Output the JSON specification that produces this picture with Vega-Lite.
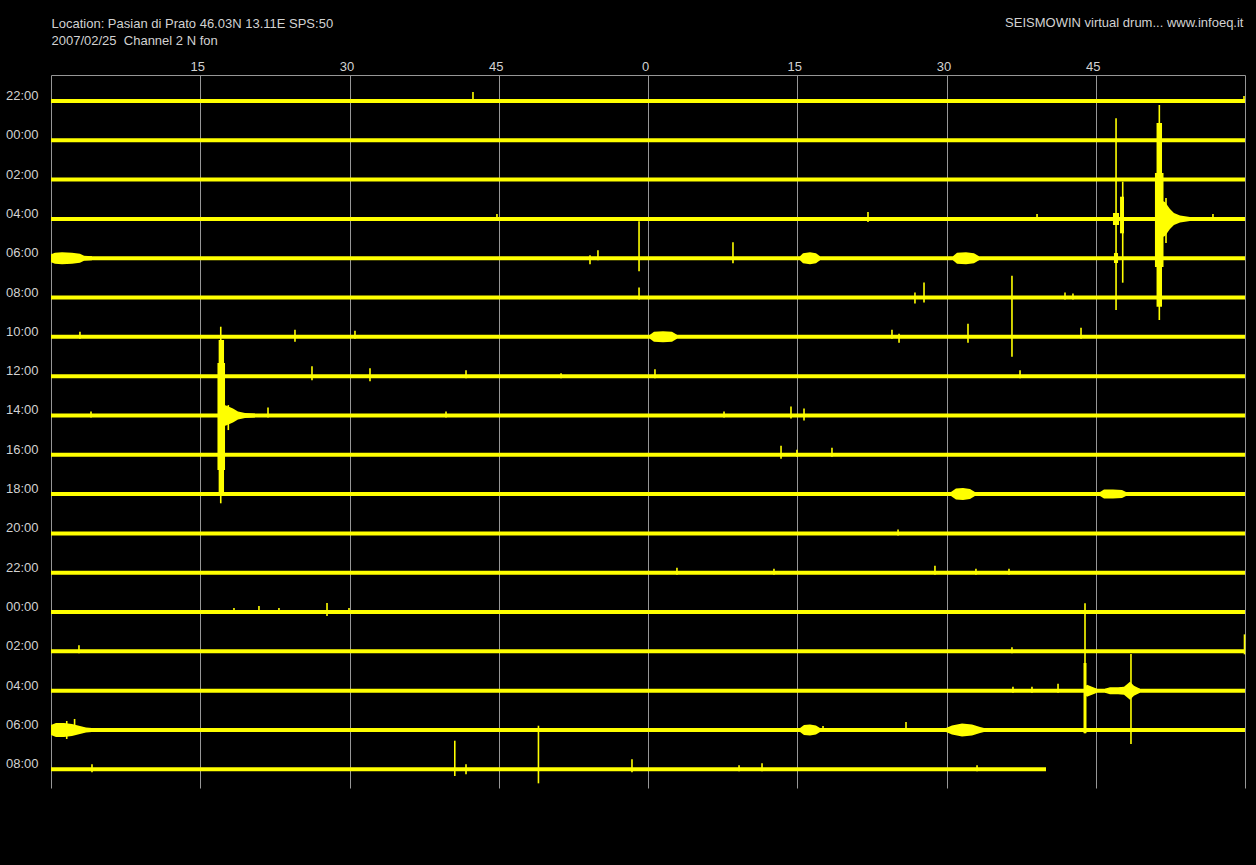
{
  "$schema": "https://vega.github.io/schema/vega-lite/v6.json",
  "autosize": {"type": "none"},
  "padding": {"left": 51, "top": 75, "right": 11, "bottom": 77},
  "width": 1194,
  "height": 713,
  "background": "#000000",
  "config": {"view": {"stroke": null}},
  "datasets": {
    "rows": [
      {"row": 0, "level": 0, "start": 0, "end": 120},
      {"row": 1, "level": -1, "start": 0, "end": 120},
      {"row": 2, "level": -2, "start": 0, "end": 120},
      {"row": 3, "level": -3, "start": 0, "end": 120},
      {"row": 4, "level": -4, "start": 0, "end": 120},
      {"row": 5, "level": -5, "start": 0, "end": 120},
      {"row": 6, "level": -6, "start": 0, "end": 120},
      {"row": 7, "level": -7, "start": 0, "end": 120},
      {"row": 8, "level": -8, "start": 0, "end": 120},
      {"row": 9, "level": -9, "start": 0, "end": 120},
      {"row": 10, "level": -10, "start": 0, "end": 120},
      {"row": 11, "level": -11, "start": 0, "end": 120},
      {"row": 12, "level": -12, "start": 0, "end": 120},
      {"row": 13, "level": -13, "start": 0, "end": 120},
      {"row": 14, "level": -14, "start": 0, "end": 120},
      {"row": 15, "level": -15, "start": 0, "end": 120},
      {"row": 16, "level": -16, "start": 0, "end": 120},
      {"row": 17, "level": -17, "start": 0, "end": 100.0}
    ],
    "spikes": [
      {"min": 42.41, "hi": 0.229, "lo": -0.05},
      {"min": 119.9, "hi": 0.127, "lo": -0.05},
      {"min": 44.82, "hi": -2.873, "lo": -3.05},
      {"min": 82.11, "hi": -2.822, "lo": -3.076},
      {"min": 99.10, "hi": -2.873, "lo": -3.05},
      {"min": 116.78, "hi": -2.873, "lo": -3.05},
      {"min": 54.17, "hi": -3.924, "lo": -4.153},
      {"min": 54.97, "hi": -3.796, "lo": -4.05},
      {"min": 59.10, "hi": -3.059, "lo": -4.331},
      {"min": 68.54, "hi": -3.593, "lo": -4.127},
      {"min": 59.10, "hi": -4.746, "lo": -5.05},
      {"min": 86.83, "hi": -4.873, "lo": -5.153},
      {"min": 87.74, "hi": -4.618, "lo": -5.127},
      {"min": 101.91, "hi": -4.873, "lo": -5.05},
      {"min": 102.71, "hi": -4.898, "lo": -5.05},
      {"min": 2.91, "hi": -5.873, "lo": -6.05},
      {"min": 24.52, "hi": -5.822, "lo": -6.127},
      {"min": 30.55, "hi": -5.847, "lo": -6.05},
      {"min": 84.52, "hi": -5.822, "lo": -6.05},
      {"min": 85.23, "hi": -5.924, "lo": -6.153},
      {"min": 92.16, "hi": -5.669, "lo": -6.153},
      {"min": 96.58, "hi": -4.444, "lo": -6.505},
      {"min": 103.52, "hi": -5.771, "lo": -6.05},
      {"min": 17.06, "hi": -5.742, "lo": -10.234},
      {"min": 26.23, "hi": -6.746, "lo": -7.102},
      {"min": 32.06, "hi": -6.796, "lo": -7.127},
      {"min": 41.71, "hi": -6.847, "lo": -7.05},
      {"min": 51.26, "hi": -6.924, "lo": -7.05},
      {"min": 60.70, "hi": -6.822, "lo": -7.05},
      {"min": 97.39, "hi": -6.847, "lo": -7.05},
      {"min": 4.02, "hi": -7.898, "lo": -8.05},
      {"min": 21.81, "hi": -7.796, "lo": -8.05},
      {"min": 39.70, "hi": -7.898, "lo": -8.05},
      {"min": 67.64, "hi": -7.898, "lo": -8.05},
      {"min": 74.37, "hi": -7.771, "lo": -8.076},
      {"min": 75.68, "hi": -7.822, "lo": -8.127},
      {"min": 17.82, "hi": -7.735, "lo": -8.371},
      {"min": 73.37, "hi": -8.771, "lo": -9.102},
      {"min": 74.97, "hi": -8.873, "lo": -9.05},
      {"min": 78.49, "hi": -8.822, "lo": -9.05},
      {"min": 85.13, "hi": -10.898, "lo": -11.05},
      {"min": 62.91, "hi": -11.873, "lo": -12.05},
      {"min": 72.66, "hi": -11.898, "lo": -12.05},
      {"min": 88.84, "hi": -11.822, "lo": -12.05},
      {"min": 92.96, "hi": -11.898, "lo": -12.05},
      {"min": 96.28, "hi": -11.898, "lo": -12.05},
      {"min": 18.39, "hi": -12.898, "lo": -13.05},
      {"min": 20.90, "hi": -12.847, "lo": -13.05},
      {"min": 22.91, "hi": -12.898, "lo": -13.05},
      {"min": 27.74, "hi": -12.771, "lo": -13.102},
      {"min": 29.95, "hi": -12.898, "lo": -13.05},
      {"min": 103.92, "hi": -12.778, "lo": -16.085},
      {"min": 2.81, "hi": -13.847, "lo": -14.05},
      {"min": 96.58, "hi": -13.898, "lo": -14.05},
      {"min": 119.95, "hi": -13.568, "lo": -14.076},
      {"min": 96.68, "hi": -14.898, "lo": -15.05},
      {"min": 98.59, "hi": -14.898, "lo": -15.05},
      {"min": 101.21, "hi": -14.822, "lo": -15.05},
      {"min": 108.54, "hi": -14.068, "lo": -16.357},
      {"min": 1.58, "hi": -15.771, "lo": -16.229},
      {"min": 2.37, "hi": -15.72, "lo": -16.05},
      {"min": 77.59, "hi": -15.898, "lo": -16.05},
      {"min": 85.93, "hi": -15.796, "lo": -16.05},
      {"min": 4.12, "hi": -16.873, "lo": -17.076},
      {"min": 40.58, "hi": -16.273, "lo": -17.171},
      {"min": 41.71, "hi": -16.873, "lo": -17.127},
      {"min": 48.99, "hi": -15.892, "lo": -17.357},
      {"min": 58.39, "hi": -16.746, "lo": -17.076},
      {"min": 69.15, "hi": -16.898, "lo": -17.05},
      {"min": 71.46, "hi": -16.847, "lo": -17.05},
      {"min": 93.07, "hi": -16.898, "lo": -17.05},
      {"min": 107.04, "hi": -0.44, "lo": -5.317},
      {"min": 107.71, "hi": -2.053, "lo": -4.622},
      {"min": 111.39, "hi": -0.102, "lo": -5.571},
      {"min": 112.06, "hi": -2.468, "lo": -3.612}
    ],
    "blocks": [
      {"from": 111.11, "to": 111.66, "hi": -0.56, "lo": -5.233},
      {"from": 110.95, "to": 111.81, "hi": -1.832, "lo": -4.223},
      {"from": 16.85, "to": 17.39, "hi": -6.08, "lo": -9.98},
      {"from": 16.73, "to": 17.49, "hi": -6.665, "lo": -9.387},
      {"from": 106.73, "to": 107.34, "hi": -2.85, "lo": -3.155},
      {"from": 106.83, "to": 107.24, "hi": -3.868, "lo": -4.122},
      {"from": 107.44, "to": 107.84, "hi": -2.435, "lo": -3.366},
      {"from": 103.77, "to": 104.07, "hi": -14.297, "lo": -16.081}
    ],
    "env": [
      {"id": "c3", "min": 111.26, "hi": -2.491, "lo": -3.509},
      {"id": "c3", "min": 111.96, "hi": -2.568, "lo": -3.432},
      {"id": "c3", "min": 112.46, "hi": -2.746, "lo": -3.254},
      {"id": "c3", "min": 112.86, "hi": -2.847, "lo": -3.153},
      {"id": "c3", "min": 113.47, "hi": -2.911, "lo": -3.089},
      {"id": "c3", "min": 114.47, "hi": -2.949, "lo": -3.051},
      {"id": "c8", "min": 16.88, "hi": -7.695, "lo": -8.305},
      {"id": "c8", "min": 17.59, "hi": -7.746, "lo": -8.254},
      {"id": "c8", "min": 18.29, "hi": -7.822, "lo": -8.178},
      {"id": "c8", "min": 18.79, "hi": -7.898, "lo": -8.102},
      {"id": "c8", "min": 19.50, "hi": -7.936, "lo": -8.064},
      {"id": "c8", "min": 20.50, "hi": -7.949, "lo": -8.051},
      {"id": "b4a", "min": 0, "hi": -3.898, "lo": -4.102},
      {"id": "b4a", "min": 0.40, "hi": -3.86, "lo": -4.14},
      {"id": "b4a", "min": 1.11, "hi": -3.847, "lo": -4.153},
      {"id": "b4a", "min": 2.11, "hi": -3.86, "lo": -4.14},
      {"id": "b4a", "min": 2.91, "hi": -3.886, "lo": -4.114},
      {"id": "b4a", "min": 3.32, "hi": -3.936, "lo": -4.064},
      {"id": "b4a", "min": 4.12, "hi": -3.949, "lo": -4.051},
      {"id": "b4b", "min": 75.28, "hi": -3.949, "lo": -4.051},
      {"id": "b4b", "min": 75.58, "hi": -3.873, "lo": -4.127},
      {"id": "b4b", "min": 76.28, "hi": -3.847, "lo": -4.153},
      {"id": "b4b", "min": 76.88, "hi": -3.873, "lo": -4.127},
      {"id": "b4b", "min": 77.29, "hi": -3.949, "lo": -4.051},
      {"id": "b4c", "min": 90.65, "hi": -3.949, "lo": -4.051},
      {"id": "b4c", "min": 91.06, "hi": -3.86, "lo": -4.14},
      {"id": "b4c", "min": 91.96, "hi": -3.847, "lo": -4.153},
      {"id": "b4c", "min": 92.76, "hi": -3.873, "lo": -4.127},
      {"id": "b4c", "min": 93.27, "hi": -3.949, "lo": -4.051},
      {"id": "b6", "min": 60.20, "hi": -5.949, "lo": -6.051},
      {"id": "b6", "min": 60.60, "hi": -5.873, "lo": -6.127},
      {"id": "b6", "min": 61.51, "hi": -5.86, "lo": -6.14},
      {"id": "b6", "min": 62.41, "hi": -5.873, "lo": -6.127},
      {"id": "b6", "min": 62.91, "hi": -5.949, "lo": -6.051},
      {"id": "b10a", "min": 90.45, "hi": -9.949, "lo": -10.051},
      {"id": "b10a", "min": 90.95, "hi": -9.86, "lo": -10.14},
      {"id": "b10a", "min": 91.66, "hi": -9.847, "lo": -10.153},
      {"id": "b10a", "min": 92.36, "hi": -9.873, "lo": -10.127},
      {"id": "b10a", "min": 92.86, "hi": -9.949, "lo": -10.051},
      {"id": "b10b", "min": 105.43, "hi": -9.949, "lo": -10.051},
      {"id": "b10b", "min": 105.83, "hi": -9.886, "lo": -10.114},
      {"id": "b10b", "min": 106.73, "hi": -9.886, "lo": -10.114},
      {"id": "b10b", "min": 107.64, "hi": -9.898, "lo": -10.102},
      {"id": "b10b", "min": 108.04, "hi": -9.949, "lo": -10.051},
      {"id": "b16a", "min": 0, "hi": -15.873, "lo": -16.127},
      {"id": "b16a", "min": 0.50, "hi": -15.822, "lo": -16.178},
      {"id": "b16a", "min": 1.31, "hi": -15.822, "lo": -16.178},
      {"id": "b16a", "min": 2.11, "hi": -15.847, "lo": -16.153},
      {"id": "b16a", "min": 2.91, "hi": -15.898, "lo": -16.102},
      {"id": "b16a", "min": 3.52, "hi": -15.936, "lo": -16.064},
      {"id": "b16a", "min": 4.12, "hi": -15.949, "lo": -16.051},
      {"id": "b16b", "min": 75.28, "hi": -15.949, "lo": -16.051},
      {"id": "b16b", "min": 75.68, "hi": -15.873, "lo": -16.127},
      {"id": "b16b", "min": 76.28, "hi": -15.86, "lo": -16.14},
      {"id": "b16b", "min": 76.88, "hi": -15.886, "lo": -16.114},
      {"id": "b16b", "min": 77.29, "hi": -15.949, "lo": -16.051},
      {"id": "b16c", "min": 89.95, "hi": -15.949, "lo": -16.051},
      {"id": "b16c", "min": 90.55, "hi": -15.886, "lo": -16.114},
      {"id": "b16c", "min": 91.56, "hi": -15.835, "lo": -16.165},
      {"id": "b16c", "min": 92.56, "hi": -15.86, "lo": -16.14},
      {"id": "b16c", "min": 93.37, "hi": -15.924, "lo": -16.076},
      {"id": "b16c", "min": 93.77, "hi": -15.949, "lo": -16.051},
      {"id": "b15a", "min": 103.82, "hi": -14.924, "lo": -15.076},
      {"id": "b15a", "min": 104.12, "hi": -14.847, "lo": -15.153},
      {"id": "b15a", "min": 104.62, "hi": -14.898, "lo": -15.102},
      {"id": "b15a", "min": 105.13, "hi": -14.949, "lo": -15.051},
      {"id": "b15b", "min": 105.93, "hi": -14.949, "lo": -15.051},
      {"id": "b15b", "min": 106.43, "hi": -14.911, "lo": -15.089},
      {"id": "b15b", "min": 107.24, "hi": -14.911, "lo": -15.089},
      {"id": "b15b", "min": 107.84, "hi": -14.898, "lo": -15.102},
      {"id": "b15b", "min": 108.44, "hi": -14.771, "lo": -15.229},
      {"id": "b15b", "min": 108.84, "hi": -14.873, "lo": -15.127},
      {"id": "b15b", "min": 109.45, "hi": -14.949, "lo": -15.051}
    ]
  },
  "encoding": {
    "x": {
      "type": "quantitative",
      "scale": {"domain": [0, 120], "nice": false, "zero": false},
      "axis": {
        "orient": "top",
        "values": [0, 15, 30, 45, 60, 75, 90, 105, 120],
        "labelExpr": "datum.value == 0 || datum.value == 120 ? '' : '' + (datum.value % 60)",
        "grid": true, "gridColor": "#969696", "gridWidth": 1, "gridOpacity": 1,
        "domain": true, "domainColor": "#969696", "domainWidth": 1,
        "ticks": false, "tickSize": 0,
        "labelColor": "#d2d2d2", "labelFont": "Liberation Sans", "labelFontSize": 13,
        "labelBaseline": "alphabetic", "labelPadding": 5, "labelOffset": -3,
        "labelFlush": false, "labelOverlap": false,
        "title": "SEISMOWIN virtual drum... www.infoeq.it",
        "titleX": 1192, "titleY": -49, "titleAlign": "right", "titleAnchor": "end",
        "titleBaseline": "alphabetic", "titleColor": "#d2d2d2", "titleFont": "Liberation Sans",
        "titleFontSize": 13, "titleFontWeight": "normal"
      }
    },
    "y": {
      "type": "quantitative",
      "scale": {"domain": [-17.476, 0.661], "nice": false, "zero": false},
      "axis": {
        "orient": "left",
        "values": [0, -1, -2, -3, -4, -5, -6, -7, -8, -9, -10, -11, -12, -13, -14, -15, -16, -17],
        "labelExpr": "['22:00','00:00','02:00','04:00','06:00','08:00','10:00','12:00','14:00','16:00','18:00','20:00','22:00','00:00','02:00','04:00','06:00','08:00'][-datum.value]",
        "grid": false, "domain": false, "ticks": false, "tickSize": 0,
        "labelColor": "#d2d2d2", "labelFont": "Liberation Sans", "labelFontSize": 13,
        "labelBaseline": "alphabetic", "labelPadding": 13, "labelOffset": -1.5, "labelAlign": "right",
        "labelOverlap": false, "labelFlush": false,
        "title": ["Location: Pasian di Prato 46.03N 13.11E SPS:50", "2007/02/25\u00a0 Channel 2 N fon"],
        "titleAngle": 0, "titleX": 0, "titleY": -48, "titleAlign": "left", "titleAnchor": "start",
        "titleBaseline": "alphabetic", "titleLineHeight": 17.7,
        "titleColor": "#d2d2d2", "titleFont": "Liberation Sans", "titleFontSize": 13, "titleFontWeight": "normal"
      }
    }
  },
  "layer": [
    {
      "data": {"name": "rows"},
      "mark": {"type": "rule", "color": "#ffff00", "strokeWidth": 4},
      "encoding": {
        "x": {"field": "start", "type": "quantitative"},
        "x2": {"field": "end"},
        "y": {"field": "level", "type": "quantitative"}
      }
    },
    {
      "data": {"name": "env"},
      "mark": {"type": "area", "color": "#ffff00", "opacity": 1},
      "encoding": {
        "x": {"field": "min", "type": "quantitative"},
        "y": {"field": "lo", "type": "quantitative"},
        "y2": {"field": "hi"},
        "detail": {"field": "id", "type": "nominal"}
      }
    },
    {
      "data": {"name": "blocks"},
      "mark": {"type": "rect", "color": "#ffff00"},
      "encoding": {
        "x": {"field": "from", "type": "quantitative"},
        "x2": {"field": "to"},
        "y": {"field": "lo", "type": "quantitative"},
        "y2": {"field": "hi"}
      }
    },
    {
      "data": {"name": "spikes"},
      "mark": {"type": "rule", "color": "#ffff00", "strokeWidth": 1.6},
      "encoding": {
        "x": {"field": "min", "type": "quantitative"},
        "y": {"field": "lo", "type": "quantitative"},
        "y2": {"field": "hi"}
      }
    }
  ]
}
